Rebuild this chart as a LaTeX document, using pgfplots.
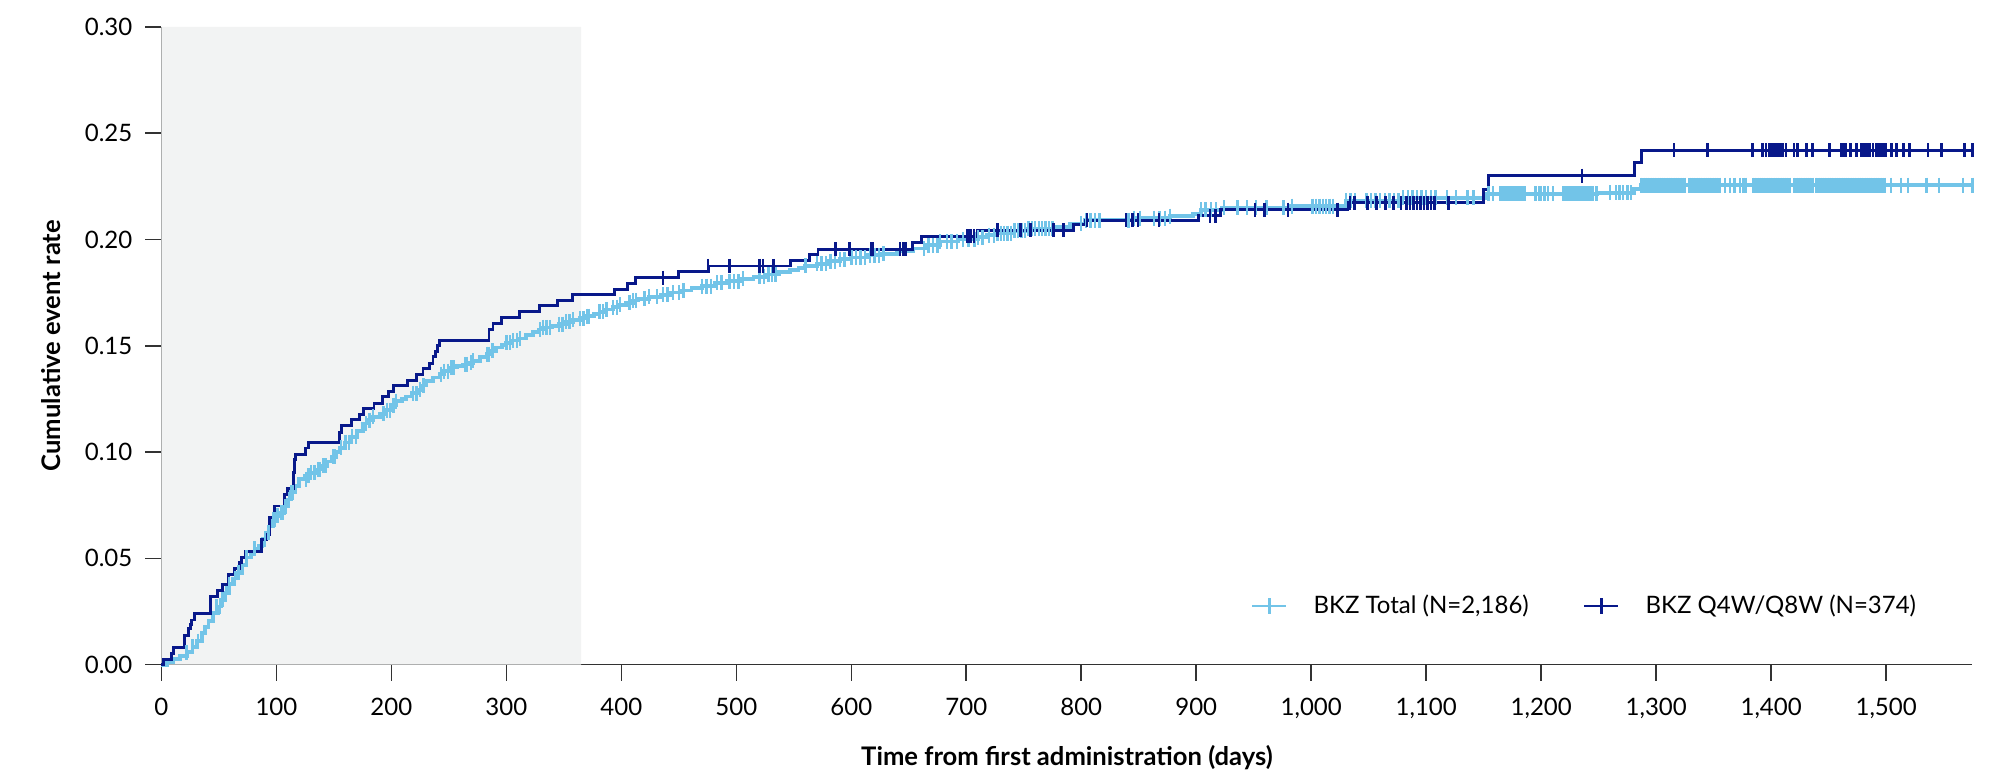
\documentclass[border=0pt]{standalone}
\usepackage{fontspec}
\setmainfont{Lato}
\usepackage{pgfplots}
\pgfplotsset{compat=1.18}

\definecolor{bkzlight}{RGB}{114,196,232}
\definecolor{bkzdark}{RGB}{8,24,138}
\definecolor{shade}{RGB}{242,243,243}
\definecolor{axisgray}{RGB}{50,50,50}

\pgfplotsset{kmplus/.style={legend image code/.code={
    \draw[##1] (0pt,0pt) -- (17pt,0pt);
    \draw[##1] (8.5pt,-3.9pt) -- (8.5pt,3.9pt);}}}

% Kaplan-Meier steps, BKZ Total
\pgfplotstableread{
t v
0 0
5 0.0012
10 0.0025
16 0.0040
22 0.0059
27 0.0084
31 0.0110
35 0.0147
38 0.0178
41 0.0206
45 0.0242
49 0.0273
52 0.0305
55 0.0336
59 0.0378
62 0.0405
65 0.0431
70 0.0470
74 0.0504
78 0.0525
81 0.0546
85 0.0557
88 0.0590
91 0.0620
94 0.0650
97 0.0683
100 0.0700
103 0.0714
107 0.0745
110 0.0777
113 0.0810
116 0.0840
120 0.0872
125 0.0888
129 0.0903
134 0.0918
139 0.0935
144 0.0955
148 0.0977
152 0.1000
155 0.1019
160 0.1045
164 0.1071
170 0.1100
175 0.1134
180 0.1150
184 0.1166
190 0.1180
194 0.1197
200 0.1220
204 0.1239
209 0.1250
213 0.1261
218 0.1276
223 0.1292
227 0.1313
230 0.1334
236 0.1350
242 0.1366
246 0.1380
251 0.1397
257 0.1405
262 0.1412
267 0.1420
271 0.1429
277 0.1445
283 0.1460
287 0.1476
291 0.1492
296 0.1503
300 0.1513
305 0.1524
310 0.1534
317 0.1550
323 0.1565
328 0.1576
332 0.1586
340 0.1594
346 0.1601
352 0.1612
358 0.1622
364 0.1630
370 0.1639
376 0.1650
381 0.1660
387 0.1670
393 0.1681
398 0.1692
404 0.1702
410 0.1713
415 0.1720
424 0.1730
434 0.1740
442 0.1750
451 0.1760
461 0.1770
470 0.1780
481 0.1795
492 0.1803
504 0.1815
515 0.1825
527 0.1835
537 0.1845
547 0.1855
554 0.1865
560 0.1875
570 0.1885
580 0.1898
590 0.1907
600 0.1915
614 0.1925
627 0.1933
640 0.1945
654 0.1957
665 0.1972
677 0.1990
693 0.2000
710 0.2010
718 0.2020
727 0.2030
740 0.2040
753 0.2050
777 0.2060
790 0.2075
803 0.2090
846 0.2100
877 0.2110
897 0.2118
904 0.2140
922 0.2148
982 0.2157
1030 0.2182
1078 0.2195
1151 0.2214
1249 0.2220
1281 0.2238
1287 0.2255
1575 0.2255
}\totalsteps

% censored, BKZ Total
\pgfplotstableread{
t v
22 0.0059
27 0.0084
32 0.0110
48 0.0273
51 0.0273
53 0.0305
56 0.0336
59 0.0378
64 0.0405
67 0.0431
74 0.0504
81 0.0546
90 0.0590
93 0.0620
97 0.0683
99 0.0683
101 0.0700
104 0.0714
106 0.0714
108 0.0745
111 0.0777
113 0.0810
114 0.0810
126 0.0872
128 0.0888
130 0.0903
133 0.0903
136 0.0918
138 0.0918
141 0.0935
143 0.0935
149 0.0977
151 0.0977
156 0.1019
160 0.1045
163 0.1045
166 0.1071
169 0.1071
178 0.1134
181 0.1150
184 0.1166
193 0.1180
196 0.1197
199 0.1197
202 0.1220
204 0.1239
219 0.1276
222 0.1276
225 0.1292
228 0.1313
243 0.1366
246 0.1380
249 0.1380
252 0.1397
254 0.1397
264 0.1412
266 0.1412
269 0.1420
271 0.1429
283 0.1460
285 0.1460
288 0.1476
300 0.1513
303 0.1513
306 0.1524
309 0.1524
312 0.1534
329 0.1576
332 0.1586
335 0.1586
338 0.1586
346 0.1601
349 0.1601
352 0.1612
355 0.1612
358 0.1622
364 0.1630
367 0.1630
370 0.1639
372 0.1639
381 0.1660
384 0.1660
387 0.1670
393 0.1681
396 0.1681
399 0.1692
407 0.1702
410 0.1713
413 0.1713
420 0.1720
424 0.1730
431 0.1730
436 0.1740
440 0.1740
445 0.1750
450 0.1750
454 0.1760
470 0.1780
474 0.1780
478 0.1780
483 0.1795
487 0.1795
494 0.1803
498 0.1803
502 0.1803
506 0.1815
520 0.1825
524 0.1825
528 0.1835
531 0.1835
534 0.1835
560 0.1875
570 0.1885
574 0.1885
578 0.1885
582 0.1898
586 0.1898
590 0.1907
594 0.1907
600 0.1915
604 0.1915
608 0.1915
612 0.1915
616 0.1925
620 0.1925
624 0.1925
628 0.1933
663 0.1957
667 0.1972
671 0.1972
675 0.1972
677 0.1990
683 0.1990
687 0.1990
692 0.1990
697 0.2000
702 0.2000
707 0.2000
710 0.2010
714 0.2010
720 0.2020
724 0.2020
727 0.2030
730 0.2030
733 0.2030
736 0.2030
739 0.2030
742 0.2040
745 0.2040
748 0.2040
751 0.2040
754 0.2050
757 0.2050
760 0.2050
763 0.2050
766 0.2050
769 0.2050
772 0.2050
775 0.2050
800 0.2075
804 0.2090
808 0.2090
812 0.2090
816 0.2090
841 0.2090
846 0.2100
851 0.2100
863 0.2100
868 0.2100
873 0.2100
877 0.2110
904 0.2140
908 0.2140
913 0.2140
917 0.2140
924 0.2148
936 0.2148
944 0.2148
952 0.2148
961 0.2148
976 0.2148
983 0.2157
1001 0.2157
1004 0.2157
1007 0.2157
1010 0.2157
1013 0.2157
1016 0.2157
1019 0.2157
1030 0.2182
1034 0.2182
1038 0.2182
1048 0.2182
1052 0.2182
1056 0.2182
1060 0.2182
1064 0.2182
1068 0.2182
1072 0.2182
1076 0.2182
1080 0.2195
1084 0.2195
1088 0.2195
1092 0.2195
1096 0.2195
1100 0.2195
1104 0.2195
1108 0.2195
1118 0.2195
1126 0.2195
1136 0.2195
1141 0.2195
1154 0.2214
1158 0.2214
1164 0.2214
1166 0.2214
1168 0.2214
1170 0.2214
1172 0.2214
1174 0.2214
1176 0.2214
1178 0.2214
1180 0.2214
1182 0.2214
1184 0.2214
1186 0.2214
1195 0.2214
1198 0.2214
1200 0.2214
1203 0.2214
1206 0.2214
1210 0.2214
1219 0.2214
1221 0.2214
1223 0.2214
1225 0.2214
1227 0.2214
1229 0.2214
1231 0.2214
1233 0.2214
1235 0.2214
1237 0.2214
1239 0.2214
1241 0.2214
1243 0.2214
1245 0.2214
1248 0.2214
1260 0.2220
1265 0.2220
1268 0.2220
1271 0.2220
1275 0.2220
1278 0.2220
1287 0.2255
1289 0.2255
1291 0.2255
1293 0.2255
1295 0.2255
1297 0.2255
1299 0.2255
1301 0.2255
1303 0.2255
1305 0.2255
1307 0.2255
1309 0.2255
1311 0.2255
1313 0.2255
1315 0.2255
1317 0.2255
1319 0.2255
1321 0.2255
1323 0.2255
1325 0.2255
1329 0.2255
1331 0.2255
1333 0.2255
1335 0.2255
1337 0.2255
1339 0.2255
1341 0.2255
1343 0.2255
1345 0.2255
1347 0.2255
1349 0.2255
1351 0.2255
1353 0.2255
1355 0.2255
1360 0.2255
1364 0.2255
1368 0.2255
1373 0.2255
1376 0.2255
1378 0.2255
1384 0.2255
1386 0.2255
1388 0.2255
1390 0.2255
1392 0.2255
1394 0.2255
1396 0.2255
1398 0.2255
1400 0.2255
1402 0.2255
1404 0.2255
1406 0.2255
1408 0.2255
1410 0.2255
1412 0.2255
1414 0.2255
1416 0.2255
1420 0.2255
1422 0.2255
1424 0.2255
1426 0.2255
1428 0.2255
1430 0.2255
1432 0.2255
1434 0.2255
1436 0.2255
1439 0.2255
1441 0.2255
1443 0.2255
1445 0.2255
1447 0.2255
1449 0.2255
1451 0.2255
1453 0.2255
1455 0.2255
1457 0.2255
1459 0.2255
1461 0.2255
1463 0.2255
1465 0.2255
1467 0.2255
1469 0.2255
1471 0.2255
1473 0.2255
1475 0.2255
1477 0.2255
1479 0.2255
1481 0.2255
1483 0.2255
1485 0.2255
1487 0.2255
1489 0.2255
1491 0.2255
1493 0.2255
1495 0.2255
1497 0.2255
1499 0.2255
1504 0.2255
1513 0.2255
1519 0.2255
1535 0.2255
1546 0.2255
1567 0.2255
1575 0.2255
}\totalcens

% Kaplan-Meier steps, BKZ Q4W/Q8W
\pgfplotstableread{
t v
0 0
2.0 0.0025
8.7 0.0053
10.4 0.0080
20.3 0.0137
23.2 0.0168
25.2 0.0189
26.5 0.0210
29.0 0.0239
42.9 0.0321
48.7 0.0347
52.8 0.0378
58.0 0.0424
63.8 0.0452
68.1 0.0479
69.6 0.0504
73.3 0.0534
87.0 0.0588
91.3 0.0613
94.2 0.0693
98.6 0.0746
107.2 0.0798
109.6 0.0830
114.5 0.0903
115.9 0.0966
116.8 0.0987
125.2 0.1019
128.1 0.1044
154.5 0.1092
156.5 0.1124
165.2 0.1151
172.5 0.1176
175.9 0.1204
184.9 0.1229
192.2 0.1261
197.7 0.1286
202.0 0.1313
213.9 0.1338
221.7 0.1366
227.5 0.1391
232.8 0.1418
236.2 0.1450
238.3 0.1471
240.0 0.1502
242.0 0.1525
284.9 0.1576
288.4 0.1603
295.7 0.1632
311.6 0.1660
329.0 0.1687
344.3 0.1712
357.4 0.1740
394.0 0.1765
405.0 0.1792
412.3 0.1820
449.9 0.1847
475.5 0.1875
547.0 0.1902
563.7 0.1928
571.0 0.1953
653.0 0.1984
661.0 0.2014
710.1 0.2042
793.3 0.2070
803.3 0.2090
901.7 0.2111
920.9 0.2140
1031.7 0.2172
1150.0 0.2236
1154.5 0.2300
1281.0 0.2362
1287.0 0.2420
1575 0.2420
}\qsteps

% censored, BKZ Q4W/Q8W
\pgfplotstableread{
t v
436.2 0.1820
475.5 0.1875
494.1 0.1875
520.4 0.1875
523.1 0.1875
532.4 0.1875
586.3 0.1953
598.3 0.1953
617.6 0.1953
618.6 0.1953
642.5 0.1953
645.2 0.1953
647.5 0.1953
700.8 0.2014
703.4 0.2014
706.8 0.2014
727.1 0.2042
747.0 0.2042
756.0 0.2042
775.6 0.2042
784.3 0.2042
805.0 0.2090
838.8 0.2090
844.8 0.2090
849.4 0.2090
867.5 0.2090
911.8 0.2111
916.9 0.2111
951.1 0.2140
959.2 0.2140
979.8 0.2140
1022.6 0.2140
1033.7 0.2172
1037.7 0.2172
1048.8 0.2172
1056.9 0.2172
1064.4 0.2172
1071.5 0.2172
1078.0 0.2172
1083 0.2172
1086 0.2172
1089 0.2172
1092 0.2172
1095 0.2172
1098 0.2172
1101 0.2172
1104 0.2172
1107 0.2172
1119.6 0.2172
1235.5 0.2300
1315.6 0.2420
1344.6 0.2420
1383.8 0.2420
1392.5 0.2420
1395.4 0.2420
1398 0.2420
1400 0.2420
1402 0.2420
1404 0.2420
1406 0.2420
1408 0.2420
1410 0.2420
1413 0.2420
1420 0.2420
1423 0.2420
1430.5 0.2420
1436 0.2420
1450.6 0.2420
1460.7 0.2420
1463 0.2420
1465 0.2420
1469 0.2420
1474 0.2420
1478.5 0.2420
1481 0.2420
1483.5 0.2420
1486 0.2420
1488.5 0.2420
1491 0.2420
1493.5 0.2420
1496 0.2420
1498.5 0.2420
1500 0.2420
1504.6 0.2420
1509 0.2420
1515 0.2420
1520.5 0.2420
1536.4 0.2420
1548 0.2420
1568.3 0.2420
1575 0.2420
}\qcens

\begin{document}
\begin{tikzpicture}[font=\fontsize{12}{14}\selectfont]
\useasboundingbox (-80.7pt,-53.2pt) rectangle (923.3pt,332.3pt);
\begin{axis}[
    at={(0,0)}, anchor=south west,
    scale only axis,
    width=905.5pt, height=318.9pt,
    xmin=0, xmax=1575, ymin=0, ymax=0.30,
    axis lines=left,
    axis line style={-, axisgray, line width=0.8pt},
    tick style={axisgray, line width=0.8pt},
    tick align=outside,
    major tick length=8pt,
    xtick={0,100,...,1500},
    ytick={0,0.05,...,0.30},
    /pgf/number format/assume math mode=true,
    xticklabel style={/pgf/number format/1000 sep={,}, yshift=-5pt},
    yticklabel style={/pgf/number format/fixed, /pgf/number format/fixed zerofill,
        /pgf/number format/precision=2, xshift=-3pt},
    xlabel={\fontsize{12.8}{15}\selectfont\bfseries Time from first administration (days)},
    ylabel={\fontsize{12.8}{15}\selectfont\bfseries Cumulative event rate},
    xlabel style={at={(axis description cs:0.5,0)}, anchor=center, yshift=-46.7pt},
    ylabel style={at={(axis description cs:0,0.5)}, anchor=center, xshift=0pt, yshift=55pt},
    clip=false,
    legend style={at={(0.598,0.092)}, anchor=west, draw=none, fill=none,
        legend columns=2,
        /tikz/every odd column/.append style={column sep=12pt},
        /tikz/every even column/.append style={column sep=26pt},
        nodes={inner sep=1pt}},
    legend cell align=left,
]
% first-year band
\addplot[draw=none, fill=shade, forget plot] coordinates {(0,0) (0,0.30) (365,0.30) (365,0)} \closedcycle;

\addplot[const plot, bkzlight, line width=1.9pt, forget plot] table[x=t, y=v] {\totalsteps};
\addplot[only marks, mark=|, mark size=3.75pt, bkzlight, mark options={line width=1.2pt}, forget plot] table[x=t, y=v] {\totalcens};

\addplot[const plot, bkzdark, line width=1.45pt, forget plot] table[x=t, y=v] {\qsteps};
\addplot[only marks, mark=|, mark size=3.5pt, bkzdark, mark options={line width=1.3pt}, forget plot] table[x=t, y=v] {\qcens};

\addlegendimage{bkzlight, line width=1.4pt, kmplus}
\addlegendentry{BKZ Total (N=2,186)}
\addlegendimage{bkzdark, line width=1.4pt, kmplus}
\addlegendentry{BKZ Q4W/Q8W (N=374)}
\end{axis}
\end{tikzpicture}
\end{document}
